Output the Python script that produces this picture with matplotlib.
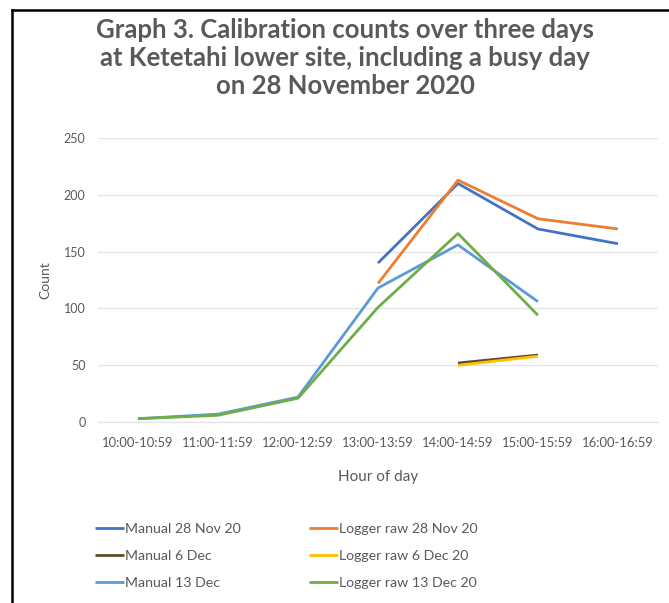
import matplotlib
matplotlib.use("Agg")
import matplotlib.pyplot as plt
from matplotlib.lines import Line2D
import numpy as np

hours = ["10:00-10:59", "11:00-11:59", "12:00-12:59", "13:00-13:59",
         "14:00-14:59", "15:00-15:59", "16:00-16:59"]
nan = np.nan
manual_28nov = [nan, nan, nan, 140, 210, 170, 157]
logger_28nov = [nan, nan, nan, 122, 213, 179, 170]
manual_6dec = [nan, nan, nan, nan, 52, 59, nan]
logger_6dec = [nan, nan, nan, nan, 50, 58, nan]
manual_13dec = [3, 7, 22, 118, 156, 106, nan]
logger_13dec = [3, 6, 21, 101, 166, 94, nan]

series = [
    ("Manual 28 Nov 20", manual_28nov, "#4472C4"),
    ("Manual 6 Dec", manual_6dec, "#5E4A2C"),
    ("Manual 13 Dec", manual_13dec, "#5B9BD5"),
    ("Logger raw 28 Nov 20", logger_28nov, "#ED7D31"),
    ("Logger raw 6 Dec 20", logger_6dec, "#FFC000"),
    ("Logger raw 13 Dec 20", logger_13dec, "#70AD47"),
]
draw_order = [0, 3, 1, 4, 2, 5]

plt.rcParams["font.family"] = ["Lato", "DejaVu Sans"]
text_grey = "#595959"

fig = plt.figure(figsize=(6.69, 6.03), dpi=100)
ax = fig.add_axes([0.1465, 0.300, 0.837, 0.471])

x = np.arange(len(hours))
handles = {}
for i in draw_order:
    label, vals, color = series[i]
    (h,) = ax.plot(x, vals, color=color, lw=2.0, solid_capstyle="butt",
                   label=label)
    handles[i] = h

ax.set_xlim(-0.5, len(hours) - 0.5)
ax.set_ylim(0, 250)
ax.set_yticks(range(0, 251, 50))
ax.set_xticks(x)
ax.set_xticklabels(hours, fontsize=9.4, color=text_grey)
ax.tick_params(axis="y", labelsize=9, colors=text_grey, length=0, pad=9)
ax.tick_params(axis="x", length=0, pad=11, colors=text_grey)
ax.grid(axis="y", color="#E3E3E3", lw=0.9)
ax.set_axisbelow(True)
for side in ["top", "right", "left"]:
    ax.spines[side].set_visible(False)
ax.spines["bottom"].set_color("#E3E3E3")
ax.spines["bottom"].set_linewidth(0.9)

ax.set_ylabel("Count", fontsize=10, color=text_grey, labelpad=9)
ax.set_xlabel("Hour of day", fontsize=11, color=text_grey, labelpad=15)

fig.text(0.516, 0.904,
         "Graph 3. Calibration counts over three days\n"
         "at Ketetahi lower site, including a busy day\n"
         "on 28 November 2020",
         ha="center", va="center", fontsize=18.5, fontweight="bold",
         color=text_grey, linespacing=1.2)

leg = fig.legend([handles[i] for i in range(6)],
                 [series[i][0] for i in range(6)],
                 loc="center", bbox_to_anchor=(0.428, 0.078), ncol=2,
                 frameon=False, fontsize=10.2, handlelength=2.05,
                 handletextpad=0.05, columnspacing=4.8, labelspacing=1.05,
                 borderpad=0)
for t in leg.get_texts():
    t.set_color(text_grey)

# frame edges around the chart
fig.add_artist(Line2D([12 / 669, 12 / 669], [0, 1 - 10 / 603],
                      transform=fig.transFigure, color="black", lw=1.8))
fig.add_artist(Line2D([12 / 669, 1], [1 - 10 / 603, 1 - 10 / 603],
                      transform=fig.transFigure, color="black", lw=1.8))

fig.savefig("out.png", dpi=100)
